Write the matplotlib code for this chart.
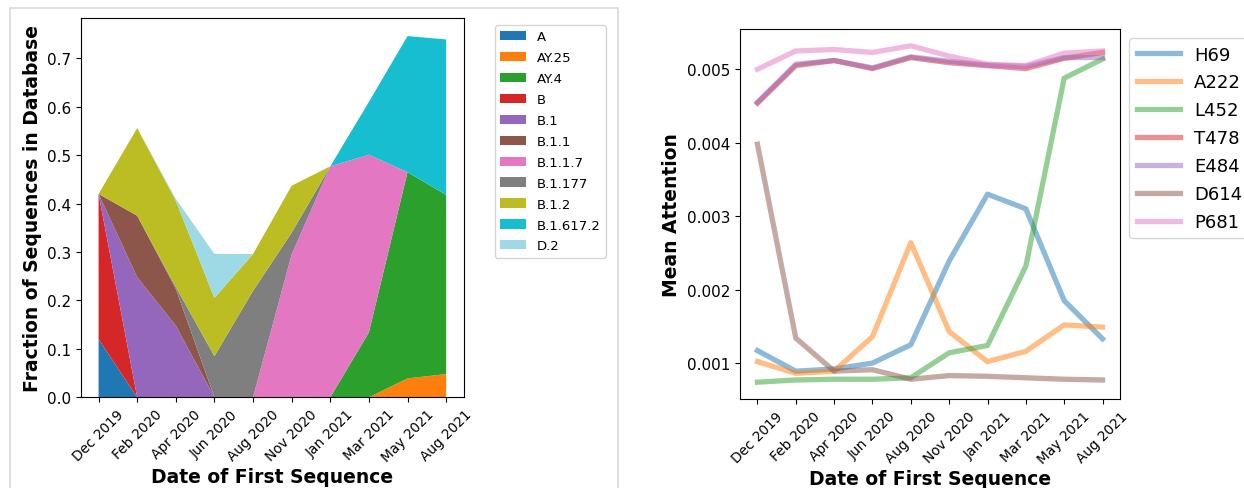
import matplotlib
matplotlib.use("Agg")
import matplotlib.pyplot as plt
from matplotlib.patches import Rectangle
import numpy as np

dates = ["Dec 2019", "Feb 2020", "Apr 2020", "Jun 2020", "Aug 2020",
         "Nov 2020", "Jan 2021", "Mar 2021", "May 2021", "Aug 2021"]

# fraction of sequences per lineage (stacked)
lineages = ["A", "AY.25", "AY.4", "B", "B.1", "B.1.1", "B.1.1.7",
            "B.1.177", "B.1.2", "B.1.617.2", "D.2"]
frac_A = [0.12, 0, 0, 0, 0, 0, 0, 0, 0, 0]
frac_AY25 = [0, 0, 0, 0, 0, 0, 0, 0, 0.039, 0.048]
frac_AY4 = [0, 0, 0, 0, 0, 0, 0, 0.134, 0.426, 0.370]
frac_B = [0.30, 0, 0, 0, 0, 0, 0, 0, 0, 0]
frac_B1 = [0, 0.248, 0.148, 0, 0, 0, 0, 0, 0, 0]
frac_B11 = [0, 0.127, 0.076, 0, 0, 0, 0, 0, 0, 0]
frac_B117 = [0, 0, 0, 0, 0, 0.295, 0.477, 0.367, 0, 0]
frac_B1177 = [0, 0, 0.004, 0.085, 0.220, 0.045, 0, 0, 0, 0]
frac_B12 = [0, 0.181, 0.178, 0.120, 0.076, 0.097, 0, 0, 0, 0]
frac_B16172 = [0, 0, 0, 0, 0, 0, 0, 0.109, 0.281, 0.321]
frac_D2 = [0, 0, 0.004, 0.091, 0, 0, 0, 0, 0, 0]

# mean attention per site
sites = ["H69", "A222", "L452", "T478", "E484", "D614", "P681"]
att_H69 = [0.00117, 0.00089, 0.00092, 0.00100, 0.00125, 0.00239, 0.00330, 0.00310, 0.00185, 0.00133]
att_A222 = [0.00102, 0.00086, 0.00089, 0.00136, 0.00264, 0.00143, 0.00102, 0.00116, 0.00152, 0.00149]
att_L452 = [0.00074, 0.00077, 0.00078, 0.00078, 0.00080, 0.00114, 0.00124, 0.00232, 0.00488, 0.00514]
att_T478 = [0.00454, 0.00505, 0.00512, 0.00501, 0.00516, 0.00509, 0.00505, 0.00501, 0.00515, 0.00523]
att_E484 = [0.00455, 0.00507, 0.00512, 0.00502, 0.00517, 0.00511, 0.00506, 0.00504, 0.00516, 0.00516]
att_D614 = [0.00398, 0.00134, 0.00089, 0.00091, 0.00078, 0.00083, 0.00082, 0.00080, 0.00078, 0.00077]
att_P681 = [0.00500, 0.00525, 0.00527, 0.00523, 0.00532, 0.00518, 0.00507, 0.00505, 0.00522, 0.00525]

W, H = 1244, 489
fig = plt.figure(figsize=(W / 100, H / 100), dpi=100)

# light frame around the left panel
fig.patches.append(Rectangle((10 / W, -0.05), 608 / W, 1 - 9 / H + 0.05,
                             transform=fig.transFigure, fill=False,
                             edgecolor="#d9d9d9", linewidth=1.2))

x = np.arange(len(dates))
fs_tick = 11
fs_xtick = 9.8
fs_lab = 13.5

# ---- left: stacked area
ax1 = fig.add_axes([81.2 / W, 1 - 398.3 / H, (463.5 - 81.2) / W, (398.3 - 19) / H])
stack = [frac_A, frac_AY25, frac_AY4, frac_B, frac_B1, frac_B11, frac_B117,
         frac_B1177, frac_B12, frac_B16172, frac_D2]
colors = ["C0", "C1", "C2", "C3", "C4", "C5", "C6", "C7", "C8", "C9", "#9edae5"]
ax1.stackplot(x, *stack, labels=lineages, colors=colors)
ax1.set_xticks(x)
ax1.set_xticklabels(dates, rotation=45, fontsize=fs_xtick)
ax1.set_yticks(np.arange(0, 0.71, 0.1))
ax1.set_yticklabels(["%.1f" % v for v in np.arange(0, 0.71, 0.1)], fontsize=fs_tick)
ax1.set_xlabel("Date of First Sequence", fontsize=fs_lab, fontweight="bold", labelpad=2)
ax1.set_ylabel("Fraction of Sequences in Database", fontsize=fs_lab, fontweight="bold")
ax1.legend(loc="upper left", bbox_to_anchor=(494.5 / W, 1 - 26 / H),
           bbox_transform=fig.transFigure, borderaxespad=0, fontsize=9.5,
           labelspacing=0.6)

# ---- right: attention lines
ax2 = fig.add_axes([740.2 / W, 1 - 400 / H, (1119.8 - 740.2) / W, (400 - 30) / H])
series = [att_H69, att_A222, att_L452, att_T478, att_E484, att_D614, att_P681]
for i, (name, vals) in enumerate(zip(sites, series)):
    ax2.plot(x, vals, color="C%d" % i, lw=3.8, alpha=0.5, label=name)
ax2.set_xticks(x)
ax2.set_xticklabels(dates, rotation=45, fontsize=fs_xtick)
yt = [0.001, 0.002, 0.003, 0.004, 0.005]
ax2.set_yticks(yt)
ax2.set_yticklabels(["%.3f" % v for v in yt], fontsize=fs_tick)
ax2.set_xlabel("Date of First Sequence", fontsize=fs_lab, fontweight="bold", labelpad=2)
ax2.set_ylabel("Mean Attention", fontsize=fs_lab, fontweight="bold")
ax2.legend(loc="upper left", bbox_to_anchor=(1129.3 / W, 1 - 39.3 / H),
           bbox_transform=fig.transFigure, borderaxespad=0, fontsize=13,
           handlelength=2.4, labelspacing=0.55)

fig.savefig("out.png", dpi=100)
